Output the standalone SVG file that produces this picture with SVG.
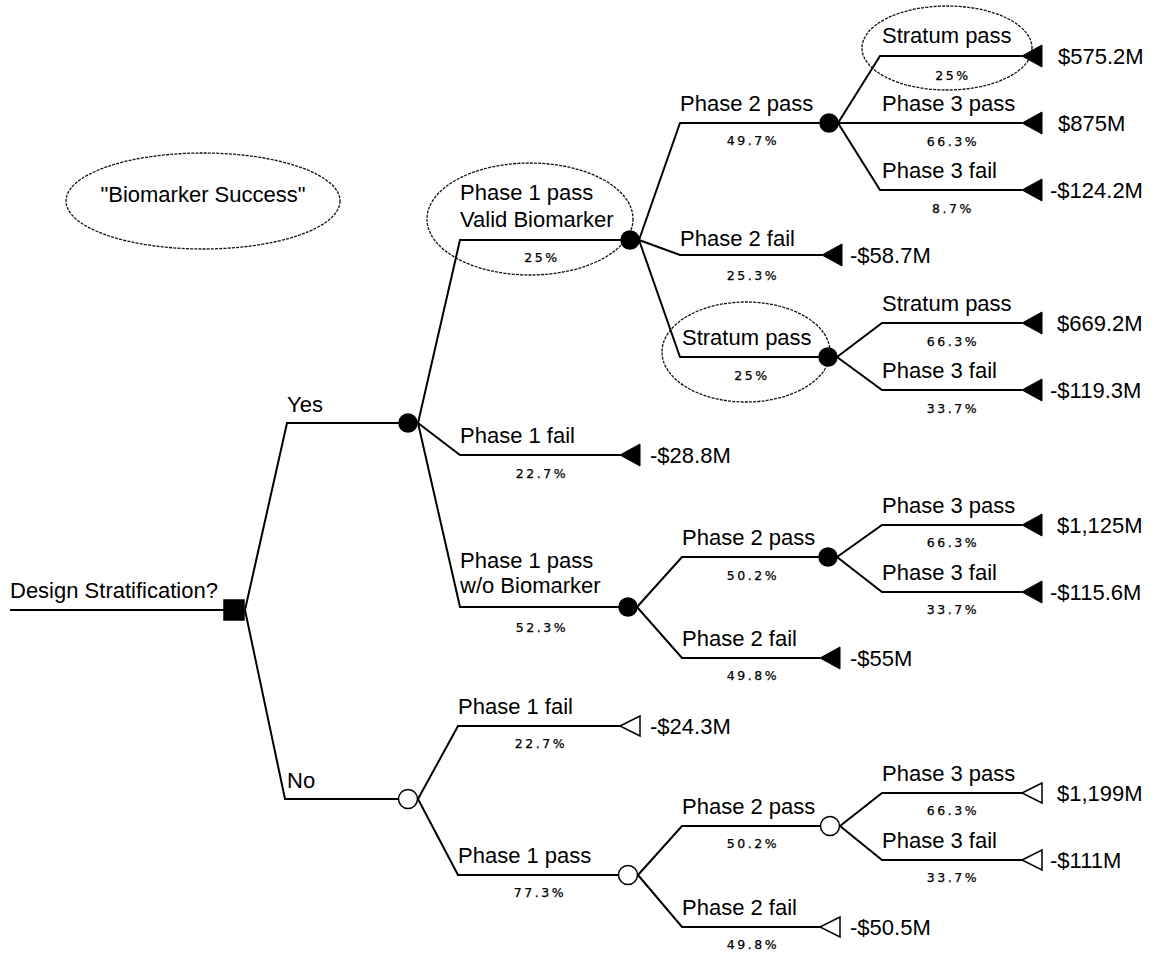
<svg xmlns="http://www.w3.org/2000/svg" width="1156" height="953" viewBox="0 0 1156 953">
<style>
.bg{fill:#fff}
.ln{fill:none;stroke:#000;stroke-width:2;stroke-linejoin:miter}
.ch{fill:#000;stroke:#000;stroke-width:1.5}
.op{fill:#fff;stroke:#000;stroke-width:1.5}
.tf{fill:#000;stroke:#000;stroke-width:1}
.to{fill:#fff;stroke:#000;stroke-width:1.5}
.el{fill:none;stroke:#111;stroke-width:1.3;stroke-dasharray:3 1.2}
.t{font-family:"Liberation Sans",Arial,sans-serif;font-size:22px;fill:#000}
.p{font-family:"DejaVu Sans","Liberation Sans",sans-serif;font-size:12.5px;letter-spacing:2.6px;fill:#000;stroke:#000;stroke-width:0.25;text-anchor:middle}
</style>
<rect class="bg" x="0" y="0" width="1156" height="953"/>

<g id="annotations">
<ellipse class="el" cx="203" cy="201" rx="137" ry="48"/>
<text class="t" x="203" y="202" text-anchor="middle">"Biomarker Success"</text>
<ellipse class="el" cx="530" cy="219" rx="103" ry="56"/>
<ellipse class="el" cx="746" cy="352" rx="84" ry="50"/>
<ellipse class="el" cx="947" cy="48" rx="85" ry="42"/>
</g>

<g id="connectors">
<path class="ln" d="M10,610 H224"/>
<path class="ln" d="M245,610 L287,423 H399"/>
<path class="ln" d="M245,610 L285,799 H398"/>
<path class="ln" d="M418,423 L460,240 H621"/>
<path class="ln" d="M418,423 L460,455 H620"/>
<path class="ln" d="M418,423 L460,607 H619"/>
<path class="ln" d="M639,240 L680,123 H820"/>
<path class="ln" d="M639,240 L680,255 H822"/>
<path class="ln" d="M639,240 L680,357 H819"/>
<path class="ln" d="M838,123 L880,56 H1022"/>
<path class="ln" d="M838,123 H1022"/>
<path class="ln" d="M838,123 L880,190 H1022"/>
<path class="ln" d="M837,357 L882,323 H1022"/>
<path class="ln" d="M837,357 L882,390 H1022"/>
<path class="ln" d="M637,607 L682,557 H819"/>
<path class="ln" d="M637,607 L682,658 H820"/>
<path class="ln" d="M837,557 L882,525 H1022"/>
<path class="ln" d="M837,557 L882,592 H1022"/>
<path class="ln" d="M418,799 L458,726 H620"/>
<path class="ln" d="M418,799 L458,875 H618"/>
<path class="ln" d="M638,875 L682,826 H820"/>
<path class="ln" d="M638,875 L682,927 H820"/>
<path class="ln" d="M840,826 L882,793 H1022"/>
<path class="ln" d="M840,826 L882,860 H1022"/>
</g>

<g id="branch-labels">
<text class="t" x="10" y="598">Design Stratification?</text>
<text class="t" x="287" y="412">Yes</text>
<text class="t" x="287" y="788">No</text>
<text class="t" x="460" y="200">Phase 1 pass</text>
<text class="t" x="460" y="227">Valid Biomarker</text>
<text class="p" x="542" y="262">25%</text>
<text class="t" x="460" y="443">Phase 1 fail</text>
<text class="p" x="542" y="478">22.7%</text>
<text class="t" x="460" y="568">Phase 1 pass</text>
<text class="t" x="460" y="593">w/o Biomarker</text>
<text class="p" x="542" y="632">52.3%</text>
<text class="t" x="680" y="111">Phase 2 pass</text>
<text class="p" x="753" y="145">49.7%</text>
<text class="t" x="680" y="246">Phase 2 fail</text>
<text class="p" x="753" y="280">25.3%</text>
<text class="t" x="682" y="345">Stratum pass</text>
<text class="p" x="752" y="380">25%</text>
<text class="t" x="882" y="43">Stratum pass</text>
<text class="p" x="953" y="80">25%</text>
<text class="t" x="882" y="111">Phase 3 pass</text>
<text class="p" x="953" y="146">66.3%</text>
<text class="t" x="882" y="178">Phase 3 fail</text>
<text class="p" x="953" y="213">8.7%</text>
<text class="t" x="882" y="311">Stratum pass</text>
<text class="p" x="953" y="346">66.3%</text>
<text class="t" x="882" y="378">Phase 3 fail</text>
<text class="p" x="953" y="413">33.7%</text>
<text class="t" x="682" y="545">Phase 2 pass</text>
<text class="p" x="753" y="580">50.2%</text>
<text class="t" x="682" y="646">Phase 2 fail</text>
<text class="p" x="753" y="680">49.8%</text>
<text class="t" x="882" y="513">Phase 3 pass</text>
<text class="p" x="953" y="547">66.3%</text>
<text class="t" x="882" y="580">Phase 3 fail</text>
<text class="p" x="953" y="614">33.7%</text>
<text class="t" x="458" y="714">Phase 1 fail</text>
<text class="p" x="541" y="748">22.7%</text>
<text class="t" x="458" y="863">Phase 1 pass</text>
<text class="p" x="540" y="897">77.3%</text>
<text class="t" x="682" y="814">Phase 2 pass</text>
<text class="p" x="753" y="848">50.2%</text>
<text class="t" x="682" y="915">Phase 2 fail</text>
<text class="p" x="753" y="949">49.8%</text>
<text class="t" x="882" y="781">Phase 3 pass</text>
<text class="p" x="953" y="815">66.3%</text>
<text class="t" x="882" y="848">Phase 3 fail</text>
<text class="p" x="953" y="882">33.7%</text>
</g>

<g id="decision-root"><rect class="ch" x="224" y="600" width="20" height="20"/></g>
<g id="chance-yes"><circle class="ch" cx="408" cy="423" r="9"/></g>
<g id="chance-valid"><circle class="ch" cx="630" cy="240" r="9"/></g>
<g id="chance-p2pass-valid"><circle class="ch" cx="829" cy="123" r="9"/></g>
<g id="chance-stratum"><circle class="ch" cx="828" cy="357" r="9"/></g>
<g id="chance-wo"><circle class="ch" cx="628" cy="607" r="9"/></g>
<g id="chance-p2pass-wo"><circle class="ch" cx="828" cy="557" r="9"/></g>
<g id="chance-no"><circle class="op" cx="408" cy="799" r="9.5"/></g>
<g id="chance-no-p1pass"><circle class="op" cx="628" cy="875" r="9.5"/></g>
<g id="chance-no-p2pass"><circle class="op" cx="830" cy="826" r="9.5"/></g>

<g id="t1"><polygon class="tf" points="1022,56 1042,45 1042,67"/><text class="t" x="1058" y="64">$575.2M</text></g>
<g id="t2"><polygon class="tf" points="1022,123 1042,112 1042,134"/><text class="t" x="1058" y="131">$875M</text></g>
<g id="t3"><polygon class="tf" points="1022,190 1042,179 1042,201"/><text class="t" x="1050" y="198">-$124.2M</text></g>
<g id="t4"><polygon class="tf" points="822,255 842,244 842,266"/><text class="t" x="850" y="263">-$58.7M</text></g>
<g id="t5"><polygon class="tf" points="1022,323 1042,312 1042,334"/><text class="t" x="1057" y="331">$669.2M</text></g>
<g id="t6"><polygon class="tf" points="1022,390 1042,379 1042,401"/><text class="t" x="1050" y="398">-$119.3M</text></g>
<g id="t7"><polygon class="tf" points="620,455 640,444 640,466"/><text class="t" x="650" y="463">-$28.8M</text></g>
<g id="t8"><polygon class="tf" points="1022,525 1042,514 1042,536"/><text class="t" x="1057" y="533">$1,125M</text></g>
<g id="t9"><polygon class="tf" points="1022,592 1042,581 1042,603"/><text class="t" x="1050" y="600">-$115.6M</text></g>
<g id="t10"><polygon class="tf" points="820,658 840,647 840,669"/><text class="t" x="850" y="666">-$55M</text></g>
<g id="t11"><polygon class="to" points="620,726 640,716 640,736"/><text class="t" x="650" y="734">-$24.3M</text></g>
<g id="t12"><polygon class="to" points="1022,793 1042,783 1042,803"/><text class="t" x="1057" y="801">$1,199M</text></g>
<g id="t13"><polygon class="to" points="1022,860 1042,850 1042,870"/><text class="t" x="1050" y="868">-$111M</text></g>
<g id="t14"><polygon class="to" points="820,927 840,917 840,937"/><text class="t" x="850" y="935">-$50.5M</text></g>
</svg>
